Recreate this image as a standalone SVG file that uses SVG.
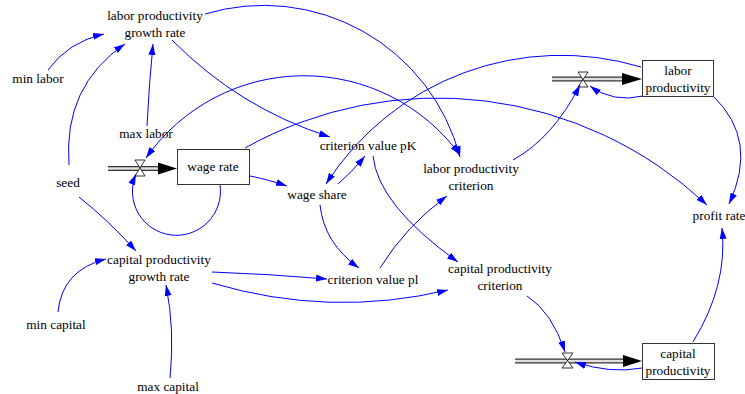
<svg xmlns="http://www.w3.org/2000/svg" width="745" height="394" viewBox="0 0 745 394">
<defs>
<style>
text{font-family:'Liberation Serif','DejaVu Serif',serif;font-size:13.3px;fill:#000;text-anchor:middle}
.c{fill:none;stroke:#0000ff;stroke-width:1}
.box{fill:#fff;stroke:#333;stroke-width:1}
.pipeo{stroke:#333;stroke-width:5;fill:none}
.pipei{stroke:#e0e0e0;stroke-width:2.4;fill:none}
.valve{fill:#fff;stroke:#000;stroke-width:0.8}
</style>
<marker id="a" markerWidth="12" markerHeight="8" refX="11" refY="4" orient="auto" markerUnits="userSpaceOnUse"><path d="M0,0.5 L11,4 L0,7.5 z" fill="#0000ff"/></marker>
<marker id="as" markerWidth="12" markerHeight="8" refX="11" refY="4" orient="auto-start-reverse" markerUnits="userSpaceOnUse"><path d="M0,0.5 L11,4 L0,7.5 z" fill="#0000ff"/></marker>
</defs>
<rect width="745" height="394" fill="#fff"/>

<g id="flows">
<g id="flow-wage">
<line class="pipeo" x1="108" y1="168.5" x2="159" y2="168.5"/>
<line class="pipei" x1="108" y1="168.5" x2="159" y2="168.5"/>
<path d="M158,162.5 L177,168.5 L158,174.5 z" fill="#000"/>
<path class="valve" d="M135,160 L145,160 L135,176 L145,176 z"/>
</g>
<g id="flow-labor">
<line class="pipeo" x1="552" y1="79" x2="623" y2="79"/>
<line class="pipei" x1="552" y1="79" x2="623" y2="79"/>
<path d="M622,73 L642,79 L622,85 z" fill="#000"/>
<path class="valve" d="M578,72 L588,72 L578,87 L588,87 z"/>
</g>
<g id="flow-capital">
<line class="pipeo" x1="515" y1="361" x2="624" y2="361"/>
<line class="pipei" x1="515" y1="361" x2="624" y2="361"/>
<path d="M623,355 L642,361 L623,367 z" fill="#000"/>
<path class="valve" d="M562,353 L573,353 L562,368 L573,368 z"/>
</g>
</g>

<g id="connectors">
<path class="c" marker-end="url(#a)" d="M48,70 Q68,42 104,34"/>
<path class="c" marker-end="url(#a)" d="M69,165 Q63,86 125,44"/>
<path class="c" marker-end="url(#a)" d="M147,126 Q149,85 153,44"/>
<path class="c" marker-end="url(#a)" d="M172,40 Q239,108 330,137"/>
<path class="c" marker-end="url(#a)" d="M205,14 A203,203 0 0 1 460,157"/>
<path class="c" marker-start="url(#as)" marker-end="url(#a)" d="M146,158 A193,193 0 0 1 460,155"/>
<path class="c" marker-end="url(#a)" d="M641,67 A279,279 0 0 0 326,184"/>
<path class="c" marker-end="url(#a)" d="M245,148 A394,394 0 0 1 707,205"/>
<path class="c" marker-end="url(#a)" d="M713,96 Q759,140 729,204"/>
<path class="c" marker-end="url(#a)" d="M513,160 Q553,138 580,85"/>
<path class="c" marker-end="url(#a)" d="M643,96 Q613,103 590,86"/>
<path class="c" marker-end="url(#a)" d="M220,185 A44,44 0 1 1 136,174"/>
<path class="c" marker-end="url(#a)" d="M250,176 Q266,179 287,186"/>
<path class="c" marker-end="url(#a)" d="M338,184 Q352,172 365,156"/>
<path class="c" marker-end="url(#a)" d="M373,156 Q378,205 458,262"/>
<path class="c" marker-end="url(#a)" d="M320,205 Q324,243 359,268"/>
<path class="c" marker-end="url(#a)" d="M380,268 Q406,226 447,196"/>
<path class="c" marker-end="url(#a)" d="M212,272 Q270,274 327,279"/>
<path class="c" marker-end="url(#a)" d="M212,283 Q330,318 448,290"/>
<path class="c" marker-end="url(#a)" d="M79,197 Q108,220 136,251"/>
<path class="c" marker-end="url(#a)" d="M58,312 Q62,270 106,259"/>
<path class="c" marker-end="url(#a)" d="M170,378 Q175,330 166,285"/>
<path class="c" marker-end="url(#a)" d="M527,296 Q552,312 565,352"/>
<path class="c" marker-end="url(#a)" d="M642,368 Q610,374 575,362"/>
<path class="c" marker-end="url(#a)" d="M693,342 Q728,285 722,228"/>
</g>

<g font-family="Liberation Serif, DejaVu Serif, serif">
<g id="wage-rate"><rect class="box" x="177.5" y="149.5" width="72" height="35"/><text x="213" y="171">wage rate</text></g>
<g id="labor-productivity"><rect class="box" x="642.5" y="60.5" width="71" height="36"/><text x="678" y="75">labor</text><text x="678" y="92">productivity</text></g>
<g id="capital-productivity"><rect class="box" x="642.5" y="343.5" width="72" height="36"/><text x="678" y="358">capital</text><text x="678" y="375">productivity</text></g>
<g id="labor-productivity-growth-rate"><text x="155" y="20">labor productivity</text><text x="155" y="37">growth rate</text></g>
<g id="min-labor"><text x="38" y="83">min labor</text></g>
<g id="max-labor"><text x="146" y="138">max labor</text></g>
<g id="seed"><text x="68" y="187">seed</text></g>
<g id="criterion-value-pK"><text x="368" y="150">criterion value pK</text></g>
<g id="wage-share"><text x="317" y="199">wage share</text></g>
<g id="labor-productivity-criterion"><text x="471" y="173">labor productivity</text><text x="471" y="190">criterion</text></g>
<g id="capital-productivity-growth-rate"><text x="159" y="264">capital productivity</text><text x="159" y="281">growth rate</text></g>
<g id="min-capital"><text x="56" y="329">min capital</text></g>
<g id="max-capital"><text x="168" y="391">max capital</text></g>
<g id="criterion-value-pl"><text x="373" y="284">criterion value pl</text></g>
<g id="capital-productivity-criterion"><text x="500" y="273">capital productivity</text><text x="500" y="290">criterion</text></g>
<g id="profit-rate"><text x="719" y="220">profit rate</text></g>
</g>
</svg>
